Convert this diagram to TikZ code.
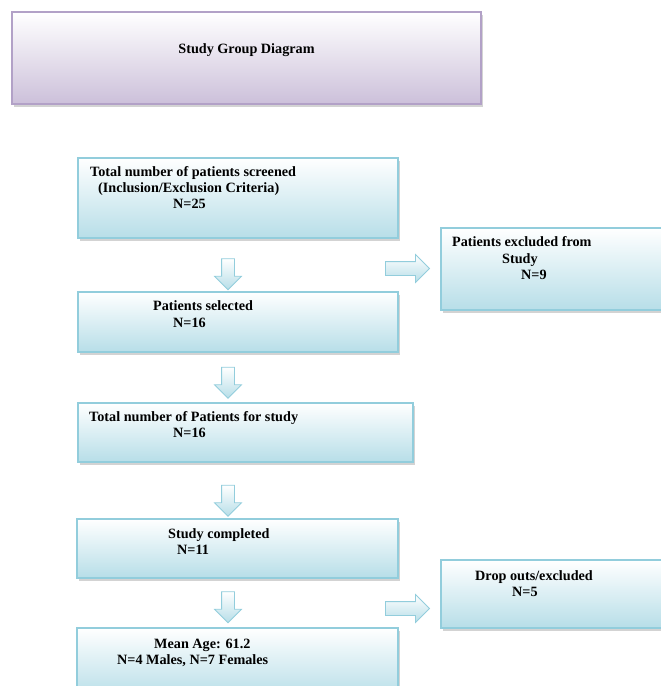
\documentclass[tikz,border=0pt]{standalone}
\usepackage{fontspec}
\setmainfont{Liberation Serif}
\usetikzlibrary{shapes.arrows,shadows}

\definecolor{aqualight}{HTML}{B7DEE8}
\definecolor{aqualine}{HTML}{92CDDC}
\definecolor{lavlight}{HTML}{CCC0DA}
\definecolor{lavline}{HTML}{B2A1C7}

\begin{document}
\begin{tikzpicture}[x=1pt, y=-1pt,
	box/.style={draw=aqualine, line width=1.2pt, top color=white, bottom color=aqualight,
		anchor=north west, inner sep=0, outer sep=0,
		drop shadow={shadow xshift=1.5pt, shadow yshift=-2.5pt, opacity=.35}},
	titlebox/.style={box, draw=lavline, bottom color=lavlight},
	txt/.style={font=\fontsize{14.2}{16}\selectfont\bfseries, inner sep=0, anchor=base west},
	blockarrow/.style={single arrow, draw=aqualine, line width=.8pt, top color=white,
		bottom color=aqualight, inner sep=6pt, minimum width=26, single arrow head extend=7},
	]
	\useasboundingbox (0,0) rectangle (661,686);

	% title
	\node[titlebox, minimum width=469, minimum height=92] (title) at (12,12) {};
	\node[txt, anchor=center] (titletxt) at (246.5,50) {Study Group Diagram};

	% boxes
	\foreach \x/\y/\w/\h [count=\n] in {
		78/158/320/80,
		441/228/230/82,
		78/292/320/60,
		78/403/335/59,
		77/519/321/59,
		441/560/230/68,
		77/628/321/70%
	} {
		\node[box, minimum width=\w, minimum height=\h] (box\n) at (\x,\y) {};
	}

	% box texts, one line each
	\foreach \x/\y/\t [count=\n] in {
		90/176.5/{Total number of patients screened},
		98/192.5/{(Inclusion/Exclusion Criteria)},
		173/208.5/{N=25},
		452/246.5/{Patients excluded from},
		502/263/{Study},
		521/279.5/{N=9},
		153/310.5/{Patients selected},
		173/327.5/{N=16},
		89/421.5/{Total number of Patients for study},
		173/437.5/{N=16},
		168/538.5/{Study completed},
		177/554.5/{N=11},
		475/580.5/{Drop outs/excluded},
		512/596.5/{N=5},
		154/648.5/{Mean Age: 61.2},
		117/664.5/{N=4 Males, N=7 Females}%
	} {
		\node[txt] (line\n) at (\x,\y) {\t};
	}

	% down arrows
	\foreach \y [count=\n] in {271,379.5,497.5,604} {
		\node[blockarrow, shape border rotate=270, minimum height=31] (down\n) at (228,\y) {};
	}

	% arrows to the excluded boxes
	\foreach \y [count=\n] in {268.5,608.5} {
		\node[blockarrow, inner sep=6.5pt, minimum height=44, minimum width=27] (side\n) at (404,\y) {};
	}
\end{tikzpicture}
\end{document}
